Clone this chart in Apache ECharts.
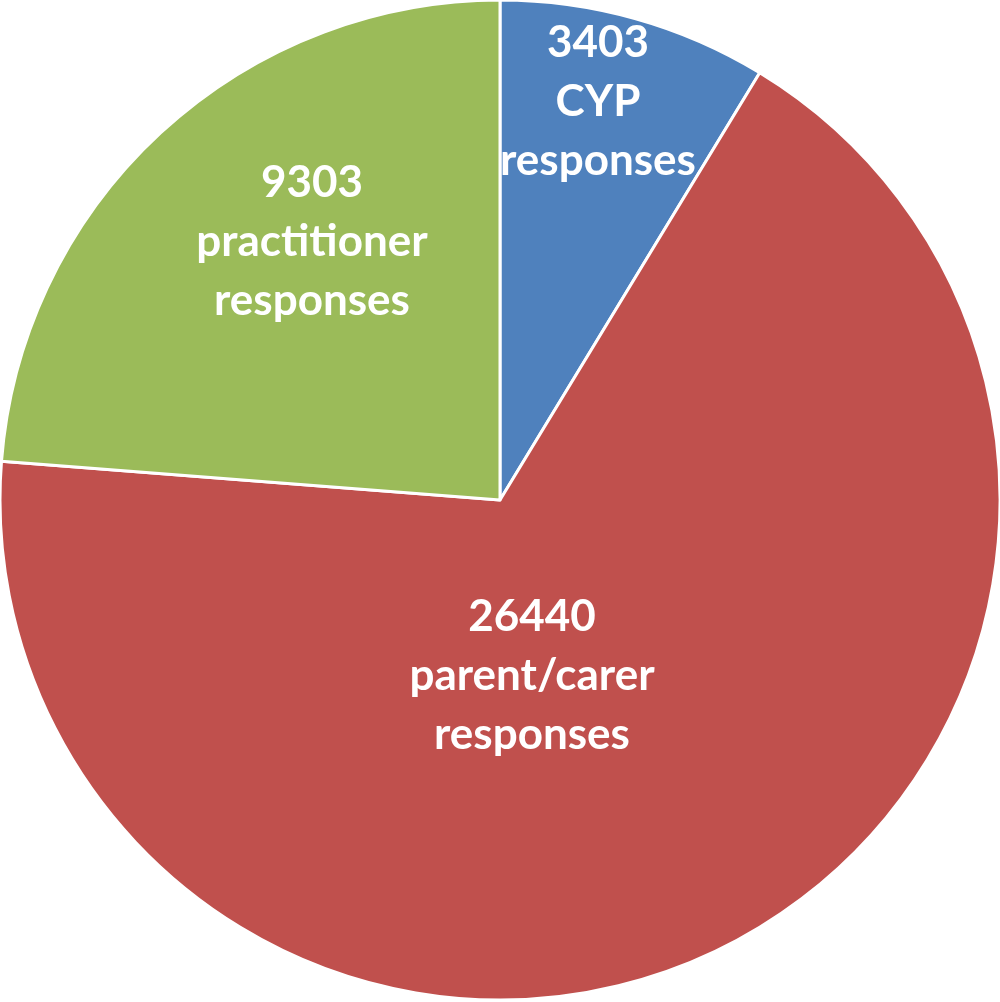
<!DOCTYPE html>
<html lang="en">
<head>
    <meta charset="UTF-8">
    <title>Responses</title>
    <script src="https://cdn.jsdelivr.net/npm/echarts@6/dist/echarts.min.js"></script>
    <style>
        html, body { margin: 0; padding: 0; background: #fff; }
        #app { width: 1000px; height: 1002px; }
    </style>
</head>
<body>
    <div id="app"></div>
    <script>
        // data
        const names = ['CYP responses', 'parent/carer responses', 'practitioner responses'];
        const values = [3403, 26440, 9303];
        const colors = ['#4F81BD', '#C0504D', '#9BBB59'];

        // where Excel put each label (centre of the text block)
        const labelSpots = [[598, 102], [532, 676], [312, 242]];

        const myChart = echarts.init(document.getElementById('app'));

        const option = {
            animation: false,
            series: [{
                type: 'pie',
                center: [500, 500],
                radius: 500,
                startAngle: 90,
                clockwise: true,
                avoidLabelOverlap: false,
                itemStyle: { borderColor: '#fff', borderWidth: 3 },
                label: {
                    show: true,
                    position: 'inside',
                    color: '#fff',
                    fontFamily: 'Lato',
                    fontWeight: 'bold',
                    fontSize: 44,
                    lineHeight: 59,
                    align: 'center',
                    formatter(p) {
                        // "3403\nCYP\nresponses"
                        const parts = p.name.split(' ');
                        return p.value + '\n' + parts.join('\n');
                    }
                },
                labelLine: { show: false },
                labelLayout(p) {
                    const s = labelSpots[p.dataIndex];
                    return { x: s[0], y: s[1], align: 'center', verticalAlign: 'middle' };
                },
                emphasis: { disabled: true },
                data: names.map((n, i) => ({ name: n, value: values[i], itemStyle: { color: colors[i] } }))
            }]
        };

        myChart.setOption(option);
    </script>
</body>
</html>
